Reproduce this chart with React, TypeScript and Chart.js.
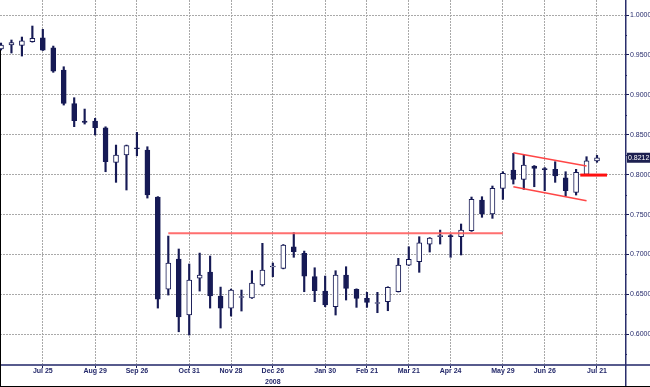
import React, { useEffect, useRef } from "react";
import { Chart, registerables } from "chart.js";
Chart.register(...registerables);

// ---- data (weekly candles) ----
const openP = [
  0.9574, 0.9624, 0.9620, 0.9665, 0.9715, 0.9590, 0.9311, 0.8889, 0.8672, 0.8672,
  0.8588, 0.8154, 0.8246, 0.8337, 0.8309, 0.7720, 0.6567, 0.6943, 0.6242, 0.6705,
  0.6781, 0.6480, 0.6329, 0.6461, 0.6455, 0.6618, 0.6843, 0.6827, 0.7097, 0.7015,
  0.6722, 0.6542, 0.6346, 0.6743, 0.6564, 0.6451, 0.6386, 0.6408, 0.6534, 0.6868,
  0.6910, 0.7131, 0.7225, 0.7231, 0.7225, 0.7298, 0.7682, 0.7507, 0.7829, 0.8058,
  0.7942, 0.8108, 0.8077, 0.8067, 0.7962, 0.7779, 0.8004, 0.8171,
];
const highP = [
  0.9649, 0.9687, 0.9724, 0.9862, 0.9821, 0.9611, 0.9352, 0.8964, 0.8822, 0.8706,
  0.8600, 0.8371, 0.8371, 0.8530, 0.8350, 0.7725, 0.7231, 0.7069, 0.6881, 0.7018,
  0.6981, 0.6592, 0.6567, 0.6555, 0.6797, 0.7140, 0.6893, 0.7125, 0.7273, 0.7043,
  0.6834, 0.6730, 0.6797, 0.6847, 0.6570, 0.6526, 0.6526, 0.6596, 0.6952, 0.7097,
  0.7223, 0.7212, 0.7306, 0.7250, 0.7382, 0.7720, 0.7724, 0.7858, 0.8037, 0.8267,
  0.8246, 0.8114, 0.8089, 0.8162, 0.8037, 0.8067, 0.8225, 0.8242,
];
const lowP = [
  0.9561, 0.9524, 0.9486, 0.9660, 0.9555, 0.9282, 0.8872, 0.8601, 0.8634, 0.8497,
  0.8037, 0.7904, 0.7808, 0.8237, 0.7707, 0.6329, 0.6492, 0.6032, 0.5991, 0.6542,
  0.6329, 0.6079, 0.6229, 0.6292, 0.6450, 0.6605, 0.6722, 0.6820, 0.6965, 0.6534,
  0.6409, 0.6346, 0.6242, 0.6430, 0.6338, 0.6338, 0.6271, 0.6296, 0.6530, 0.6862,
  0.6777, 0.7031, 0.7131, 0.6965, 0.6994, 0.7290, 0.7466, 0.7453, 0.7691, 0.7883,
  0.7816, 0.7849, 0.7799, 0.7904, 0.7733, 0.7745, 0.8000, 0.8155,
];
const closeP = [
  0.9624, 0.9655, 0.9678, 0.9708, 0.9561, 0.9298, 0.8894, 0.8676, 0.8653, 0.8588,
  0.8162, 0.8246, 0.8363, 0.8325, 0.7745, 0.6442, 0.6893, 0.6217, 0.6680, 0.6743,
  0.6480, 0.6329, 0.6555, 0.6473, 0.6643, 0.6806, 0.6856, 0.7119, 0.7035, 0.6730,
  0.6546, 0.6367, 0.6743, 0.6576, 0.6451, 0.6401, 0.6398, 0.6589, 0.6868, 0.6939,
  0.7147, 0.7206, 0.7238, 0.7225, 0.7306, 0.7691, 0.7507, 0.7829, 0.8017, 0.7942,
  0.8121, 0.8077, 0.8064, 0.7983, 0.7799, 0.8029, 0.8175, 0.8212,
];

// x tick labels (candle index -> label)
const tickIdx = [4, 9, 13, 18, 22, 26, 31, 35, 39, 43, 48, 52, 57];
const tickText = ["Jul 25", "Aug 29", "Sep 26", "Oct 31", "Nov 28", "Dec 26", "Jan 30", "Feb 21", "Mar 21", "Apr 24", "May 29", "Jun 26", "Jul 21"];
const yearIdx = 26;
const yearText = "2008";

// y ticks
const yMajor = [0.6, 0.65, 0.7, 0.75, 0.8, 0.85, 0.9, 0.95, 1.0];
const yMinor = [0.575, 0.625, 0.675, 0.725, 0.775, 0.825, 0.875, 0.925, 0.975];

// red annotation lines
const resistX = [16, 48];
const resistY = [0.7265, 0.7265];
const upperX = [49, 56];
const upperY = [0.8275, 0.8108];
const lowerX = [49, 56];
const lowerY = [0.7849, 0.7674];
const pivotX = [55.4, 57.96];
const pivotY = [0.7995, 0.7995];

const X_MIN = -0.0956;
const X_MAX = 59.678;
const Y_MIN = 0.5616;
const Y_MAX = 1.0188;

const NAVY = "#161a55";
const LABEL = "#23286a";
const GRID = "#a9a9a9";
const FONT = "'Liberation Sans Narrow', 'Liberation Sans', Arial, sans-serif";

const pts = (xs: number[], ys: number[]) => xs.map((x, i) => ({ x, y: ys[i] }));

const decor = {
  id: "decor",
  afterDraw(chart: any) {
    const { ctx, chartArea, scales } = chart;
    const y = scales.y;
    const W = chart.width;
    const H = chart.height;
    ctx.save();
    // minor ticks on the price axis
    ctx.strokeStyle = NAVY;
    ctx.lineWidth = 1;
    yMinor.forEach((v) => {
      const py = Math.round(y.getPixelForValue(v)) + 0.5;
      ctx.beginPath();
      ctx.moveTo(chartArea.right, py);
      ctx.lineTo(chartArea.right + 2, py);
      ctx.stroke();
    });
    // axis lines
    ctx.fillStyle = "#575b8d";
    ctx.fillRect(0, chartArea.bottom - 1, W, 2);
    ctx.fillStyle = "#2a2e6c";
    ctx.fillRect(chartArea.right, 0, 1.5, H);
    // frame
    ctx.fillStyle = "#000";
    ctx.fillRect(0, H - 1, W, 1);
    ctx.fillRect(0, 50, 1, H - 50);
    // last price box
    const last = closeP[closeP.length - 1];
    const py = y.getPixelForValue(last);
    ctx.fillStyle = "#1d2050";
    ctx.fillRect(chartArea.right + 2, py - 5, W - chartArea.right - 2, 10);
    ctx.fillStyle = "#ffffff";
    ctx.font = `7px ${FONT}`;
    ctx.textBaseline = "middle";
    ctx.textAlign = "left";
    ctx.fillText(last.toFixed(4), chartArea.right + 3, py + 0.5);
    ctx.restore();
  },
};

export default function App() {
  const ref = useRef<HTMLCanvasElement>(null);
  useEffect(() => {
    const idx = closeP.map((_, i) => i);
    const up = idx.map((i) => closeP[i] >= openP[i]);
    const redLine = (data: any, color: string, width: number) => ({
      type: "line" as const,
      data,
      borderColor: color,
      borderWidth: width,
      pointRadius: 0,
      tension: 0,
      fill: false,
      order: 0,
    });
    const chart = new Chart(ref.current as HTMLCanvasElement, {
      type: "bar",
      data: {
        datasets: [
          redLine(pts(resistX, resistY), "rgba(255,95,95,0.9)", 2),
          redLine(pts(upperX, upperY), "rgba(255,60,60,0.95)", 1.6),
          redLine(pts(lowerX, lowerY), "rgba(255,60,60,0.95)", 1.6),
          redLine(pts(pivotX, pivotY), "#ff1010", 3),
          {
            type: "bar",
            data: idx.map((i) => ({ x: i, y: [openP[i], closeP[i]] })),
            backgroundColor: idx.map((i) => (up[i] ? "#ffffff" : NAVY)),
            borderColor: NAVY,
            borderWidth: 1,
            borderSkipped: false,
            barThickness: 5,
            minBarLength: 1,
            grouped: false,
            order: 5,
          } as any,
          {
            type: "bar",
            data: idx.map((i) => ({ x: i, y: [lowP[i], highP[i]] })),
            backgroundColor: NAVY,
            borderWidth: 0,
            barThickness: 1.5,
            grouped: false,
            order: 6,
          } as any,
        ],
      },
      options: {
        animation: false,
        responsive: false,
        devicePixelRatio: 1,
        layout: { padding: 0 },
        plugins: { legend: { display: false }, tooltip: { enabled: false } },
        scales: {
          x: {
            type: "linear",
            min: X_MIN,
            max: X_MAX,
            offset: false,
            grid: { offset: false, color: GRID, lineWidth: 1, drawTicks: true, tickLength: 3, tickColor: NAVY },
            border: { display: false, dash: [2, 1] },
            afterBuildTicks: (s: any) => {
              s.ticks = tickIdx.map((v) => ({ value: v }));
            },
            afterFit: (s: any) => {
              s.height = 22;
              s.paddingLeft = 0;
              s.paddingRight = 0;
            },
            ticks: {
              autoSkip: false,
              maxRotation: 0,
              minRotation: 0,
              padding: -2.5,
              color: LABEL,
              font: { family: FONT, size: 7, weight: "bold", lineHeight: 11 / 7 },
              callback: (v: any) => {
                const k = tickIdx.indexOf(Number(v));
                if (k < 0) return "";
                return tickIdx[k] === yearIdx ? [tickText[k], yearText] : tickText[k];
              },
            },
          } as any,
          y: {
            type: "linear",
            position: "right",
            min: Y_MIN,
            max: Y_MAX,
            grid: { color: GRID, lineWidth: 1, drawTicks: true, tickLength: 4, tickColor: NAVY },
            border: { display: false, dash: [2, 1] },
            afterBuildTicks: (s: any) => {
              s.ticks = yMajor.map((v) => ({ value: v }));
            },
            afterFit: (s: any) => {
              s.width = 25;
              s.paddingTop = 0;
              s.paddingBottom = 0;
            },
            ticks: {
              padding: 1,
              color: LABEL,
              font: { family: FONT, size: 7 },
              callback: (v: any) => Number(v).toFixed(4),
            },
          } as any,
        },
      },
      plugins: [decor],
    });
    return () => chart.destroy();
  }, []);
  return (
    <div style={{ position: "fixed", left: 0, top: 0, width: 650, height: 387, background: "#fff" }}>
      <canvas ref={ref} width={650} height={387} style={{ display: "block" }} />
    </div>
  );
}
